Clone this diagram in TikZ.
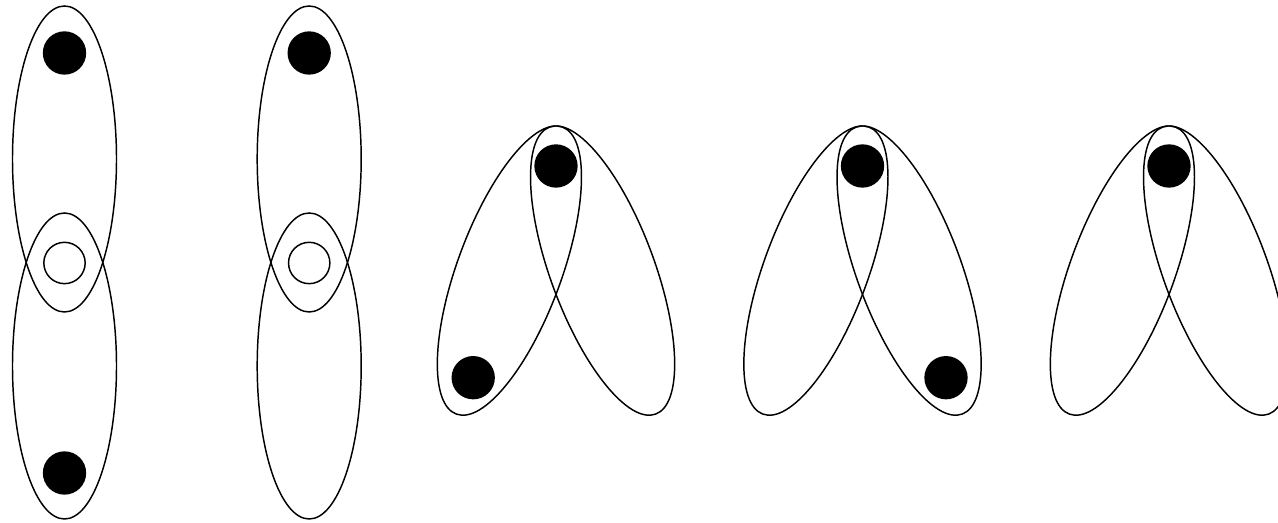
\documentclass[tikz,border=0pt]{standalone}
\begin{document}
\begin{tikzpicture}[x=0.75pt,y=0.75pt,
  loop/.style={draw=black,line width=1.1pt},
  dot/.style={circle,fill=black,inner sep=0pt,minimum size=32.5pt},
  hole/.style={circle,draw=black,line width=1.1pt,fill=white,inner sep=0pt,minimum size=31pt}]
\clip (0,0) rectangle (1278,523);
% y-up coordinates: Y = 523 - y_image
% Figure 1
\draw[loop] (64.5,364) ellipse [x radius=52, y radius=153];
\draw[loop] (64.5,157) ellipse [x radius=52, y radius=153];
\node[dot]  (a1) at (64.5,470) {};
\node[hole] (a2) at (64.5,260) {};
\node[dot]  (a3) at (64.5,50) {};
% Figure 2
\draw[loop] (309.2,364) ellipse [x radius=52, y radius=153];
\draw[loop] (309.2,157) ellipse [x radius=52, y radius=153];
\node[dot]  (b1) at (309.2,470) {};
\node[hole] (b2) at (309.2,260) {};
% Figures 3-5
\foreach \X/\nm in {556/c,862.5/d,1169/e}{
  \draw[loop,rotate around={-20.3:(\X-46.6,252.4)}] (\X-46.6,252.4) ellipse [x radius=52, y radius=153];
  \draw[loop,rotate around={20.3:(\X+46.6,252.4)}] (\X+46.6,252.4) ellipse [x radius=52, y radius=153];
  \node[dot] (\nm1) at (\X,357) {};
}
\node[dot] (c2) at (473.2,145.3) {};
\node[dot] (d2) at (946,145.3) {};
\end{tikzpicture}
\end{document}
